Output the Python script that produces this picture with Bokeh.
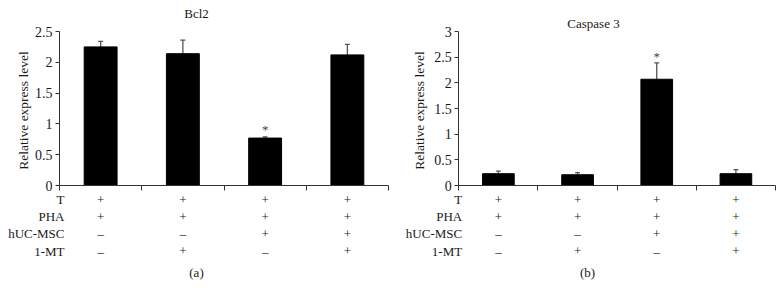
from bokeh.plotting import figure
from bokeh.models import Range1d, FixedTicker, Label, Whisker, ColumnDataSource, TeeHead
from bokeh.layouts import row
from bokeh.embed import file_html
from bokeh.resources import INLINE

groups = ["G1", "G2", "G3", "G4"]
row_names = ["T", "PHA", "hUC-MSC", "1-MT"]
treat_T = ["+", "+", "+", "+"]
treat_PHA = ["+", "+", "+", "+"]
treat_MSC = ["–", "–", "+", "+"]
treat_MT = ["–", "+", "–", "+"]

bcl2_vals = [2.25, 2.14, 0.77, 2.12]
bcl2_err = [0.09, 0.22, 0.02, 0.17]
bcl2_ticks = [0, 0.5, 1, 1.5, 2, 2.5]

casp3_vals = [0.23, 0.21, 2.07, 0.23]
casp3_err = [0.05, 0.04, 0.32, 0.08]
casp3_ticks = [0, 0.5, 1, 1.5, 2, 2.5, 3]

sig = [False, False, True, False]

FONT = "Liberation Serif"
TXT = "#1a1a1a"
H = 298
FRAME_TOP = 31      # pixel y of top tick
FRAME_BOT = 185     # pixel y of zero line
ROW_Y = [199, 216, 233, 250.5]
CAP_Y = 272


def panel(title, vals, errs, ticks, ymax, fig_left, fig_width, axis_px, axis_end_px,
          title_px, title_py, ylab_px, caption, caption_px, star_py, name_right_px):
    ax0 = axis_px - fig_left
    ax1 = axis_end_px - fig_left
    xpu = (ax1 - ax0) / 4.0
    ppu = (FRAME_BOT - FRAME_TOP) / ymax

    def xd(px):
        return (px - axis_px) / xpu

    def yd(py):
        return (FRAME_BOT - py) / ppu

    p = figure(width=fig_width, height=H, output_backend="svg", toolbar_location=None,
               x_range=Range1d(-ax0 / xpu, (fig_width - ax0) / xpu),
               y_range=Range1d(-(H - FRAME_BOT) / ppu, FRAME_BOT / ppu),
               min_border=0, min_border_left=0, min_border_right=0,
               min_border_top=0, min_border_bottom=0)
    p.outline_line_color = None
    p.grid.visible = False
    p.background_fill_color = "white"
    p.border_fill_color = "white"

    xs = [i + 0.5 for i in range(len(groups))]
    tops = [v + e for v, e in zip(vals, errs)]
    src = ColumnDataSource(dict(x=xs, top=vals, upper=tops, lower=vals))
    p.vbar(x="x", top="top", bottom=0, width=0.4, source=src,
           fill_color="black", line_color="black")
    w = Whisker(base="x", upper="upper", lower="lower", source=src, dimension="height",
                line_color="#555555", line_width=1.3,
                upper_head=TeeHead(size=5, line_color="#555555", line_width=1.3),
                lower_head=None)
    p.add_layout(w)

    xa = p.xaxis[0]
    xa.fixed_location = 0
    xa.bounds = (0, 4)
    xa.ticker = FixedTicker(ticks=[0, 1, 2, 3, 4])
    xa.major_label_overrides = {0: "", 1: "", 2: "", 3: "", 4: ""}
    xa.major_tick_in = 0
    xa.major_tick_out = 5
    xa.minor_tick_line_color = None
    xa.axis_line_color = "#333333"
    xa.major_tick_line_color = "#333333"

    ya = p.yaxis[0]
    ya.fixed_location = 0
    ya.bounds = (0, ymax)
    ya.ticker = FixedTicker(ticks=ticks)
    ya.major_label_overrides = {t: ("%g" % t) for t in ticks}
    ya.major_tick_in = 0
    ya.major_tick_out = 4
    ya.minor_tick_line_color = None
    ya.axis_line_color = "#333333"
    ya.major_tick_line_color = "#333333"
    ya.major_label_text_font = FONT
    ya.major_label_text_font_size = "14px"
    ya.major_label_text_color = TXT
    ya.major_label_standoff = 3

    def lab(px, py, text, align="center", angle=0, color=TXT, size="13px"):
        p.add_layout(Label(x=xd(px), y=yd(py), text=text, text_align=align,
                           text_baseline="middle", angle=angle, angle_units="deg",
                           text_font=FONT, text_font_size=size, text_color=color))

    lab(ylab_px, 110, "Relative express level", angle=90, size="13.5px")
    lab(title_px, title_py, title)
    lab(caption_px, CAP_Y, caption)

    rows = [treat_T, treat_PHA, treat_MSC, treat_MT]
    for name, signs, py in zip(row_names, rows, ROW_Y):
        lab(name_right_px, py, name, align="right")
        for xi, s in zip(xs, signs):
            p.add_layout(Label(x=xi, y=yd(py), text=s, text_align="center",
                               text_baseline="middle", text_font=FONT,
                               text_font_size="13px", text_color=TXT))
    for xi, s in zip(xs, sig):
        if s:
            p.add_layout(Label(x=xi, y=yd(star_py), text="*", text_align="center",
                               text_baseline="middle", text_font=FONT,
                               text_font_size="13px", text_color="#444444"))
    return p


p1 = panel("Bcl2", bcl2_vals, bcl2_err, bcl2_ticks, 2.5, 0, 391, 59, 388,
           title_px=196, title_py=13, ylab_px=23, caption="(a)", caption_px=196,
           star_py=129, name_right_px=64)
p2 = panel("Caspase 3", casp3_vals, casp3_err, casp3_ticks, 3.0, 391, 392, 458.3, 775,
           title_px=593, title_py=22.7, ylab_px=419, caption="(b)", caption_px=587,
           star_py=56, name_right_px=461.7)

layout = row(p1, p2, spacing=0)
open("out.html", "w").write(file_html(layout, INLINE))
